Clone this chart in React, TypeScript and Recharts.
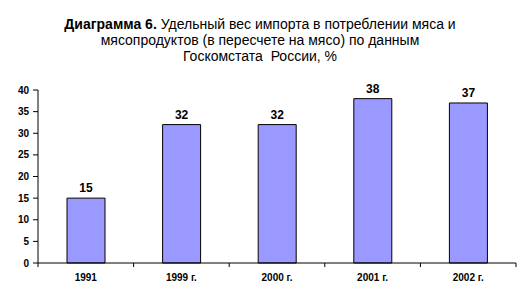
import { BarChart, Bar, XAxis, YAxis, LabelList } from 'recharts';

const years = ['1991', '1999 г.', '2000 г.', '2001 г.', '2002 г.'];
const importShare = [15, 32, 32, 38, 37];
const yTicks = [0, 5, 10, 15, 20, 25, 30, 35, 40];

const data = years.map((y, i) => ({ year: y, value: importShare[i] }));

const W = 529;
const H = 304;
const M = { top: 90, right: 13, left: 0, bottom: 21 };
const Y_W = 38;
const BAND = (W - M.left - M.right - Y_W) / years.length;

function XTick(props: any) {
  const { x, y, payload, index } = props;
  const ax = y - 8;
  return (
    <g>
      <line x1={x + BAND / 2} y1={ax} x2={x + BAND / 2} y2={ax + 4} stroke="#000" />
      {index === 0 && <line x1={x - BAND / 2} y1={ax} x2={x - BAND / 2} y2={ax + 4} stroke="#000" />}
      <text x={x} y={y + 10} textAnchor="middle" fontSize={10} fontWeight="bold" fill="#000">
        {payload.value}
      </text>
    </g>
  );
}

export default function App() {
  return (
    <div style={{ position: 'absolute', left: 0, top: 0, width: W, height: H, background: '#fff', fontFamily: 'Liberation Sans, Arial, sans-serif' }}>
      <div style={{ position: 'absolute', left: 0, top: 16, width: 520, textAlign: 'center', fontSize: 14, lineHeight: '16px', color: '#000' }}>
        <b>Диаграмма 6.</b> Удельный вес импорта в потреблении мяса и
        <br />
        мясопродуктов (в пересчете на мясо) по данным
        <br />
        Госкомстата&nbsp; России, %
      </div>
      <BarChart width={W} height={H} data={data} margin={M} barCategoryGap="30%">
        <XAxis
          dataKey="year"
          stroke="#000"
          tickLine={false}
          tick={<XTick />}
          interval={0}
          height={20}
        />
        <YAxis
          domain={[0, 40]}
          ticks={yTicks}
          width={Y_W}
          stroke="#000"
          tickSize={5}
          tickMargin={4}
          tick={{ fontSize: 10, fontWeight: 'bold', fill: '#000' }}
          interval={0}
        />
        <Bar dataKey="value" fill="#9999FF" stroke="#000" strokeWidth={1} barSize={38} isAnimationActive={false}>
          <LabelList dataKey="value" position="top" offset={6} fontSize={12} fontWeight="bold" fill="#000" />
        </Bar>
      </BarChart>
    </div>
  );
}
